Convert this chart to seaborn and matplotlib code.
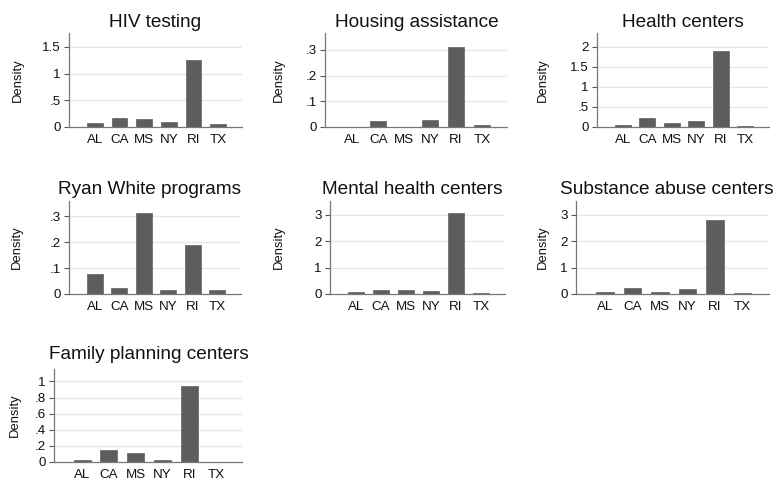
import matplotlib
matplotlib.use("Agg")
import matplotlib.pyplot as plt
import seaborn as sns
import pandas as pd

states = ["AL", "CA", "MS", "NY", "RI", "TX"]

hiv_testing = [0.075, 0.17, 0.15, 0.09, 1.26, 0.05]
housing_assistance = [0.0, 0.022, 0.0, 0.026, 0.313, 0.007]
health_centers = [0.06, 0.23, 0.09, 0.14, 1.89, 0.025]
ryan_white = [0.077, 0.023, 0.312, 0.017, 0.191, 0.017]
mental_health = [0.075, 0.15, 0.15, 0.11, 3.04, 0.04]
substance_abuse = [0.075, 0.24, 0.075, 0.19, 2.78, 0.04]
family_planning = [0.02, 0.146, 0.117, 0.03, 0.946, 0.005]

titles = ["HIV testing", "Housing assistance", "Health centers",
          "Ryan White programs", "Mental health centers",
          "Substance abuse centers", "Family planning centers"]
series = [hiv_testing, housing_assistance, health_centers, ryan_white,
          mental_health, substance_abuse, family_planning]
yticks = [([0, 0.5, 1, 1.5], ["0", ".5", "1", "1.5"]),
          ([0, 0.1, 0.2, 0.3], ["0", ".1", ".2", ".3"]),
          ([0, 0.5, 1, 1.5, 2], ["0", ".5", "1", "1.5", "2"]),
          ([0, 0.1, 0.2, 0.3], ["0", ".1", ".2", ".3"]),
          ([0, 1, 2, 3], ["0", "1", "2", "3"]),
          ([0, 1, 2, 3], ["0", "1", "2", "3"]),
          ([0, 0.2, 0.4, 0.6, 0.8, 1], ["0", ".2", ".4", ".6", ".8", "1"])]
ymaxes = [1.76, 0.366, 2.34, 0.359, 3.51, 3.51, 1.155]

# pixel layout: axes box (left, right, top, bottom)
boxes = [(69, 242, 33, 127), (325, 507, 33, 127), (597, 769, 33, 127),
         (69, 241, 201, 294), (330, 505, 201, 294), (576, 769, 201, 294),
         (54, 242, 369, 462)]
# title centre x, title baseline y, ylabel centre x (pixels)
title_pos = [(155, 27), (417, 27), (683, 27),
             (150, 194), (412, 194), (667, 194), (149, 359)]
ylabel_x = [18, 279, 543, 17, 279, 543, 15]

sns.set_theme(style="white")
plt.rcParams['font.family'] = ['Liberation Sans', 'DejaVu Sans']

W, H = 783, 487
fig = plt.figure(figsize=(W / 100, H / 100), dpi=100)
fig.patch.set_facecolor("white")

for title, vals, (tv, tl), ymax, (l, r, t, b), (tx, ty), lx in zip(
        titles, series, yticks, ymaxes, boxes, title_pos, ylabel_x):
    ax = fig.add_axes([l / W, 1 - b / H, (r - l) / W, (b - t) / H])
    df = pd.DataFrame({"state": states, "density": vals})
    sns.barplot(data=df, x="state", y="density", ax=ax, color="#5d5d5d",
                saturation=1, width=0.64, edgecolor="#6e6e6e", linewidth=0.6)
    ax.set_xlim(-1.05, 5.97)
    ax.set_ylim(0, ymax)
    ax.set_yticks(tv)
    ax.set_yticklabels(tl)
    ax.set_xlabel("")
    ax.set_ylabel("Density", fontsize=9.4, color="#111111")
    ax.yaxis.set_label_coords((lx + 6 - l) / (r - l), 0.5)
    fig.text(tx / W, 1 - ty / H, title, fontsize=13.7, color="#111111",
             ha="center", va="baseline")
    for y in tv[1:]:
        ax.axhline(y, color="#e6e6e6", linewidth=0.9, zorder=0)
    ax.set_axisbelow(True)
    for s in ["top", "right"]:
        ax.spines[s].set_visible(False)
    for s in ["left", "bottom"]:
        ax.spines[s].set_color("#777777")
        ax.spines[s].set_linewidth(0.9)
    ax.tick_params(axis="y", left=True, length=3.5, width=0.8, color="#555555",
                   labelsize=9.6, pad=2.5, labelcolor="#111111")
    ax.tick_params(axis="x", bottom=False, length=0, labelsize=9.6, pad=5.2,
                   labelcolor="#111111")
    ax.set_facecolor("white")

fig.savefig("out.png", dpi=100, facecolor="white")
